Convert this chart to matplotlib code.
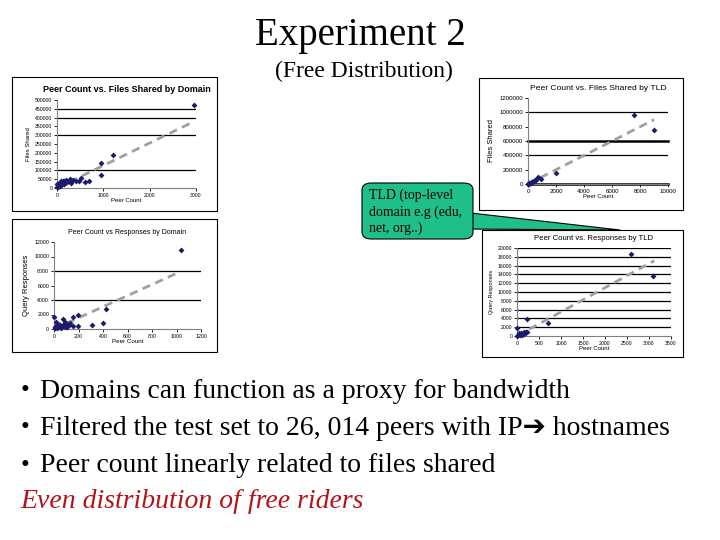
import matplotlib
matplotlib.use("Agg")
import matplotlib.pyplot as plt
from matplotlib.patches import Rectangle, FancyBboxPatch, Polygon

W, H = 720, 540

# ---------------- data ----------------
# Chart 1: Peer Count vs. Files Shared by Domain
dom_peers = [2950, 1200, 960, 950, 700, 600, 520, 480, 400, 350, 300, 280, 250, 220, 200,
             180, 160, 150, 130, 110, 100, 90, 80, 60, 50, 40, 30, 20, 10, 5]
dom_files = [470000, 190000, 140000, 75000, 40000, 35000, 55000, 40000, 38000, 45000, 30000,
             50000, 40000, 35000, 48000, 30000, 42000, 25000, 38000, 20000, 30000, 15000,
             40000, 10000, 20000, 30000, 8000, 12000, 5000, 20000]
dom_files_trend_x = [0, 2950]
dom_files_trend_y = [0, 377000]

# Chart 2: Peer Count vs. Files Shared by TLD
tld_peers = [7550, 8980, 1980, 710, 900, 600, 500, 400, 300, 250, 200, 150, 100, 60, 30, 10]
tld_files = [958000, 758000, 158000, 93000, 74000, 60000, 50000, 42000, 30000, 25000, 20000,
             15000, 10000, 6000, 3000, 1000]
tld_files_trend_x = [0, 9000]
tld_files_trend_y = [0, 898000]

# Chart 3: Peer Count vs Responses by Domain
dom_peers_r = [1033, 426, 399, 309, 197, 197, 156, 156, 0, 74, 87, 120, 100, 90, 70, 60, 50,
               40, 30, 25, 20, 15, 10, 5, 130, 110]
dom_resp = [10940, 2760, 780, 600, 1890, 370, 1650, 460, 1650, 1430, 960, 500, 700, 300, 600,
            200, 500, 300, 700, 150, 400, 900, 250, 100, 800, 250]
dom_resp_trend_x = [0, 990]
dom_resp_trend_y = [0, 7590]

# Chart 4: Peer Count vs. Responses by TLD
tld_peers_r = [2587, 3097, 708, 236, 8, 200, 180, 150, 120, 100, 80, 60, 40, 20, 10, 220, 160]
tld_resp = [18630, 13690, 2890, 3880, 1900, 800, 600, 500, 300, 700, 400, 200, 600, 300, 100,
            900, 1000]
tld_resp_trend_x = [0, 3120]
tld_resp_trend_y = [0, 17110]

title = "Experiment 2"
subtitle = "(Free Distribution)"
callout = "TLD (top-level\ndomain e.g (edu,\nnet, org..)"
bullets = ["Domains can function as a proxy for bandwidth",
           "Filtered the test set to 26, 014 peers with IP\u2794 hostnames",
           "Peer count linearly related to files shared"]
conclusion = "Even distribution of free riders"

# ---------------- figure ----------------
fig = plt.figure(figsize=(7.2, 5.4), dpi=100)
fig.patch.set_facecolor("white")

def fx(px):
    return px / W

def fy(py):
    return 1 - py / H

def ax_at(x0, x1, ytop, ybot):
    return fig.add_axes([fx(x0), fy(ybot), fx(x1 - x0), (ybot - ytop) / H])

def frame(x0, x1, ytop, ybot):
    fig.add_artist(Rectangle((fx(x0), fy(ybot)), fx(x1 - x0), (ybot - ytop) / H,
                             transform=fig.transFigure, fill=False, ec="black", lw=0.8))

SANS = "Liberation Sans"
SERIF = "Liberation Serif"
NAVY = "#1c1c6b"

def style_chart(ax, x, y, tx, ty, xlim, xticks, ylim, yticks, grid, title, ylabel,
                tfs, tick_fs, lab_fs, ylab_fs, title_bold=False, thick=()):
    for v in grid:
        ax.axhline(v, color="black", lw=0.9, zorder=1)
    for v in thick:
        ax.axhline(v, color="black", lw=1.8, zorder=1, clip_on=False)
    ax.plot(tx, ty, ls=(0, (3, 2)), color="#a0a0a0", lw=2.0, zorder=2)
    ax.scatter(x, y, marker="D", s=9, color=NAVY, zorder=3, linewidths=0, clip_on=False)
    ax.set_xlim(*xlim)
    ax.set_ylim(*ylim)
    ax.set_xticks(xticks)
    ax.set_yticks(yticks)
    ax.set_xticklabels([str(t) for t in xticks], fontsize=tick_fs, family=SANS)
    ax.set_yticklabels([str(t) for t in yticks], fontsize=tick_fs, family=SANS)
    ax.tick_params(length=2, width=0.6, pad=1.5)
    for s in ["top", "right"]:
        ax.spines[s].set_visible(False)
    for s in ["left", "bottom"]:
        ax.spines[s].set_color("#808080")
        ax.spines[s].set_linewidth(0.8)
    ax.set_title(title, fontsize=tfs, family=SANS,
                 fontweight="bold" if title_bold else "normal", pad=6)
    ax.set_xlabel("Peer Count", fontsize=lab_fs, family=SANS, labelpad=0)
    ax.set_ylabel(ylabel, fontsize=ylab_fs, family=SANS, labelpad=3)

# chart 1
frame(12, 217, 77, 211)
ax1 = ax_at(57, 196, 100, 188)
style_chart(ax1, dom_peers, dom_files, dom_files_trend_x, dom_files_trend_y,
            (0, 3000), [0, 1000, 2000, 3000], (0, 500000), list(range(0, 500001, 50000)),
            [100000, 300000, 400000, 450000], "Peer Count vs. Files Shared by Domain",
            "Files Shared", tfs=6.5, tick_fs=3.7, lab_fs=4.3, ylab_fs=4.3, title_bold=True)

# chart 2
frame(479, 683, 78, 210)
ax2 = ax_at(528, 668, 98, 184)
style_chart(ax2, tld_peers, tld_files, tld_files_trend_x, tld_files_trend_y,
            (0, 10000), list(range(0, 10001, 2000)), (0, 1200000),
            list(range(0, 1200001, 200000)), [400000, 1000000],
            "Peer Count vs. Files Shared by TLD", "Files Shared",
            tfs=6.1, tick_fs=4.4, lab_fs=4.3, ylab_fs=5.5, thick=[0, 600000])

# chart 3
frame(12, 217, 219, 352)
ax3 = ax_at(54, 201, 242, 329)
style_chart(ax3, dom_peers_r, dom_resp, dom_resp_trend_x, dom_resp_trend_y,
            (0, 1200), list(range(0, 1201, 200)), (0, 12000), list(range(0, 12001, 2000)),
            [4000, 8000], "Peer Count vs Responses by Domain", "Query Responses",
            tfs=5.0, tick_fs=3.8, lab_fs=4.5, ylab_fs=5.5)

# chart 4
frame(482, 683, 230, 357)
ax4 = ax_at(517, 671, 248, 336)
style_chart(ax4, tld_peers_r, tld_resp, tld_resp_trend_x, tld_resp_trend_y,
            (0, 3500), list(range(0, 3501, 500)), (0, 20000), list(range(0, 20001, 2000)),
            list(range(2000, 20001, 2000)), "Peer Count vs. Responses by TLD",
            "Query Responses", tfs=5.6, tick_fs=3.7, lab_fs=4.3, ylab_fs=4.0)

# callout
GREEN = "#1fbf8c"
tail = Polygon([(fx(462), fy(212)), (fx(620), fy(230)), (fx(462), fy(229))],
               closed=True, transform=fig.transFigure, fc=GREEN, ec="black", lw=0.8,
               zorder=5)
fig.add_artist(tail)
box = FancyBboxPatch((fx(362), fy(239)), fx(111), 56 / H,
                     boxstyle="round,pad=0,rounding_size=0.013",
                     transform=fig.transFigure, fc=GREEN, ec="black", lw=0.8, zorder=6)
fig.add_artist(box)
# cover tail joint inside box
fig.add_artist(Rectangle((fx(455), fy(228)), fx(17), 15 / H, transform=fig.transFigure,
                         fc=GREEN, ec="none", zorder=7))
fig.text(fx(369), fy(212), callout, family=SERIF, fontsize=10, va="center", ha="left",
         linespacing=1.3, zorder=8)

# titles
fig.text(0.5, fy(36), title, family=SERIF, fontsize=28, ha="center", va="center")
fig.text(fx(364), fy(71), subtitle, family=SERIF, fontsize=17, ha="center", va="center")

# bullets
for i, b in enumerate(bullets):
    yy = fy(391 + 37.5 * i)
    fig.text(fx(21), yy, "\u2022", family=SERIF, fontsize=18, ha="left", va="center")
    fig.text(fx(40), yy, b, family=[SERIF, "DejaVu Sans"], fontsize=20, ha="left",
             va="center")
fig.text(fx(20), fy(502), conclusion, family=SERIF, fontsize=20, style="italic",
         color="#b5121b", ha="left", va="center")

fig.savefig("out.png", dpi=100)
